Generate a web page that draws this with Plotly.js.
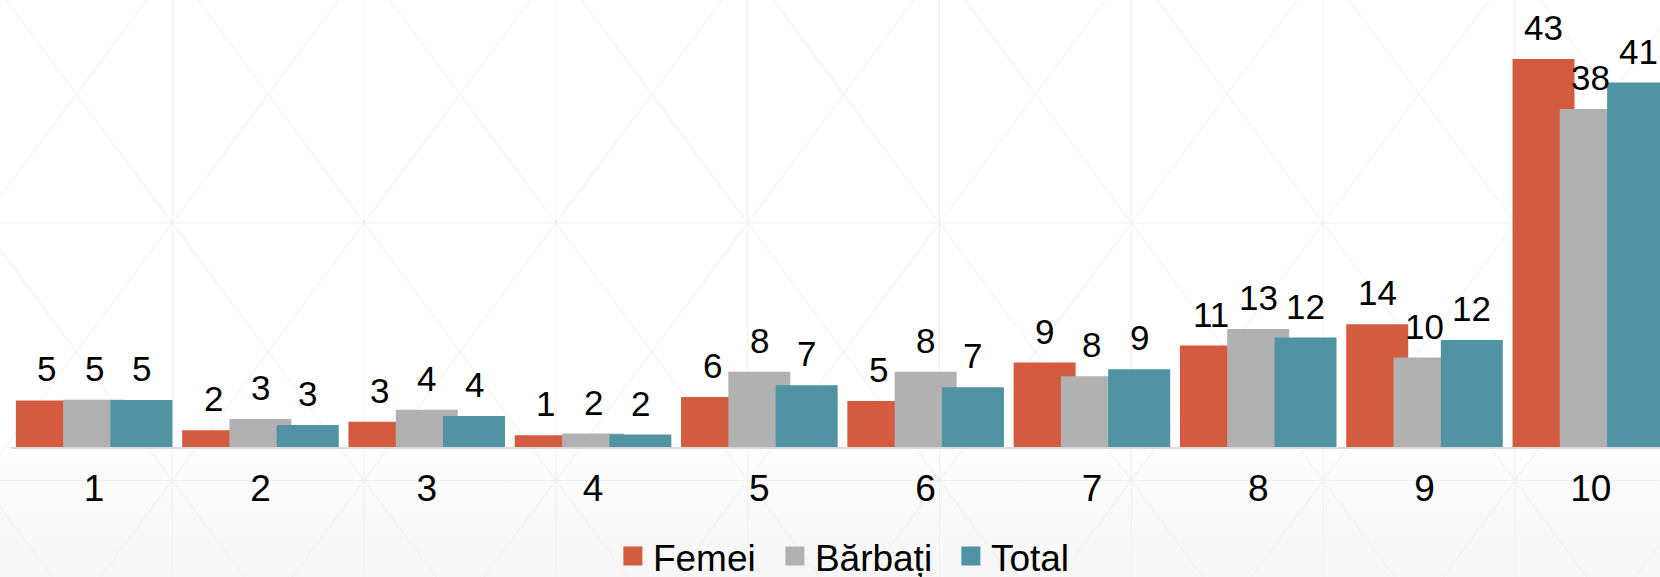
<!DOCTYPE html>
<html><head><meta charset="utf-8">
<script src="https://cdn.plot.ly/plotly-3.0.1.min.js"></script>
<style>
html,body{margin:0;padding:0;background:#fff;}
#wrap{position:relative;width:1660px;height:577px;overflow:hidden;}
#bg{position:absolute;left:0;top:0;}
#chart{position:absolute;left:0;top:0;width:1660px;height:577px;}
</style></head><body>
<div id="wrap">
<svg id="bg" width="1660" height="577" xmlns="http://www.w3.org/2000/svg">
 <defs>
  <linearGradient id="g" x1="0" y1="0" x2="0" y2="1">
   <stop offset="0" stop-color="#ffffff"/>
   <stop offset="0.77" stop-color="#ffffff"/>
   <stop offset="0.8" stop-color="#fdfdfd"/>
   <stop offset="1" stop-color="#f6f6f6"/>
  </linearGradient>
 </defs>
 <rect width="1660" height="577" fill="url(#g)"/>
 <g id="pat" stroke="#f0f0f0" stroke-width="1" fill="none"></g>
</svg>
<div id="chart"></div>
</div>
<script>
// ---- data ----
const categories = ['1','2','3','4','5','6','7','8','9','10'];
const seriesNames = ['Femei','Bărbați','Total'];
const femeiValues   = [5.21, 1.86, 2.83, 1.31, 5.59, 5.15, 9.44, 11.34, 13.72, 43.4];
const barbatiValues = [5.29, 3.13, 4.17, 1.50, 8.43, 8.43, 7.91, 13.2, 10.0, 37.8];
const totalValues   = [5.26, 2.46, 3.47, 1.39, 6.90, 6.68, 8.69, 12.24, 11.97, 40.76];
const femeiLabels   = [5, 2, 3, 1, 6, 5, 9, 11, 14, 43];
const barbatiLabels = [5, 3, 4, 2, 8, 8, 8, 13, 10, 38];
const totalLabels   = [5, 3, 4, 2, 7, 7, 9, 12, 12, 41];

// ---- decorative background pattern ----
(function(){
  const g = document.getElementById('pat');
  const W = 191.8, H = 257.5, x0 = 172.3, y0 = 223;
  let d = '';
  for (let k = -2; k <= 9; k++) {
    const x = x0 + k*W;
    d += 'M'+x+',0V577';
  }
  for (let m = -1; m <= 1; m++) {
    const y = y0 + m*H;
    d += 'M0,'+y+'H1660';
  }
  for (let k = -2; k <= 9; k++) {
    for (let m = -1; m <= 1; m++) {
      const xa = x0 + k*W, ya = y0 + m*H;
      d += 'M'+xa+','+ya+'L'+(xa+W)+','+(ya+H);
      d += 'M'+(xa+W)+','+ya+'L'+xa+','+(ya+H);
    }
  }
  const p = document.createElementNS('http://www.w3.org/2000/svg','path');
  p.setAttribute('d', d);
  g.appendChild(p);
})();

// ---- chart ----
const colors = ['#D35B3F', '#B1B1B1', '#5192A3'];
const valueSets = [femeiValues, barbatiValues, totalValues];
const labelSets = [femeiLabels, barbatiLabels, totalLabels];
const xIdx = categories.map((c, i) => i);
const BAR_W = 0.3728, STEP = 0.2844, FIRST_OFF = -0.4708;
const FONT = 'Liberation Sans, Arial, sans-serif';
const legendWidths = [117, 131, 83];

const traces = valueSets.map((vals, j) => ({
  type: 'bar',
  name: seriesNames[j],
  x: xIdx,
  y: vals,
  width: BAR_W,
  offset: FIRST_OFF + j*STEP,
  marker: {color: colors[j]},
  showlegend: false,
  hoverinfo: 'none'
}));

// legend entries (square swatches)
seriesNames.forEach((nm, j) => {
  traces.push({
    type: 'scatter', mode: 'markers', name: nm,
    x: [null], y: [null],
    marker: {symbol: 'square', size: 16, color: colors[j], line: {width: 3, color: colors[j]}},
    legendwidth: legendWidths[j],
    showlegend: true, hoverinfo: 'none'
  });
});

const annotations = [];
valueSets.forEach((vals, j) => {
  vals.forEach((v, i) => {
    annotations.push({
      x: xIdx[i] + FIRST_OFF + j*STEP + BAR_W/2,
      y: v,
      xref: 'x', yref: 'y',
      text: String(labelSets[j][i]),
      showarrow: false,
      xanchor: 'center', yanchor: 'bottom',
      yshift: 10,
      font: {family: FONT, size: 35, color: '#000000'}
    });
  });
});

const layout = {
  width: 1660, height: 577,
  margin: {l: 11, r: 0, t: 0, b: 130, pad: 0, autoexpand: false},
  barmode: 'overlay',
  paper_bgcolor: 'rgba(0,0,0,0)',
  plot_bgcolor: 'rgba(0,0,0,0)',
  font: {family: FONT, color: '#000000'},
  xaxis: {
    range: [-0.5, 9.416],
    tickmode: 'array', tickvals: xIdx, ticktext: categories,
    showgrid: false, zeroline: false,
    showline: true, linecolor: '#dadada', linewidth: 2,
    ticks: '', ticklabelstandoff: 8,
    tickfont: {family: FONT, size: 37, color: '#000000'}
  },
  yaxis: {range: [0, 50], visible: false, showgrid: false, zeroline: false},
  showlegend: true,
  legend: {
    orientation: 'h', x: 0.365, xanchor: 'left', y: -0.245, yanchor: 'middle',
    font: {family: FONT, size: 37, color: '#000000'},
    bgcolor: 'rgba(0,0,0,0)', traceorder: 'normal'
  },
  annotations: annotations
};

Plotly.newPlot('chart', traces, layout, {staticPlot: true, displayModeBar: false});
</script>
</body></html>
